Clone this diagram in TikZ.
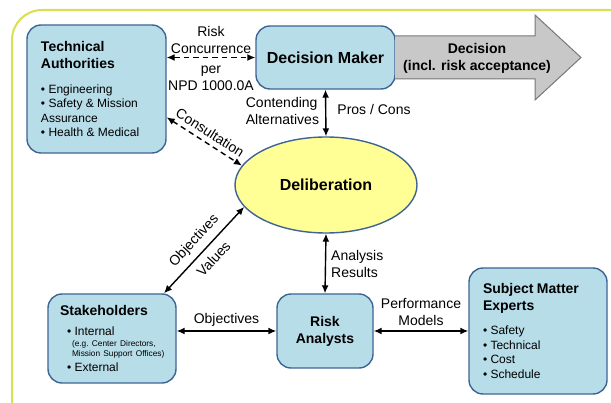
\documentclass[tikz,border=0pt]{standalone}
\usepackage{fontspec}
\setmainfont{Liberation Sans}
\usepackage{xcolor}
\usepackage{tikz}
\usetikzlibrary{shapes,arrows.meta,positioning}

\definecolor{boxfill}{RGB}{183,221,232}
\definecolor{boxline}{RGB}{62,100,148}
\definecolor{ellfill}{RGB}{255,255,150}
\definecolor{framecol}{RGB}{214,224,82}
\definecolor{arrowfill}{RGB}{200,200,200}
\definecolor{arrowline}{RGB}{120,120,120}

\newcommand{\titlefont}{\fontsize{14}{17}\selectfont\bfseries}
\newcommand{\itemfont}{\fontsize{12}{14.5}\selectfont}
\newcommand{\notefont}{\fontsize{8.3}{10}\selectfont}

\begin{document}
\begin{tikzpicture}[
    x=1pt, y=-1pt,
    block/.style={
        rectangle,
        draw=boxline,
        line width=1.4pt,
        fill=boxfill,
        rounded corners=14pt,
        inner ysep=0pt
    },
    cloud/.style={
        draw=boxline,
        ellipse,
        line width=1.4pt,
        fill=ellfill,
        inner sep=0pt,
        minimum width=182pt,
        minimum height=96pt
    },
    line/.style={
        draw, {Latex[length=8pt,width=7pt]}-{Latex[length=8pt,width=7pt]}, line width=1.4pt
    },
    dashline/.style={
        line, dash pattern=on 5.5pt off 4pt
    },
    lbl/.style={
        font=\fontsize{14}{17}\selectfont,
        align=center,
        inner sep=2pt
    }
]
    \clip (0,0) rectangle (611,403);

    % Frame
    \draw [framecol, line width=2pt, rounded corners=30pt] (12,10) rectangle (640,430);

    % Nodes
    \node [block, minimum width=139pt, minimum height=128pt, text width=111pt,
           inner xsep=14pt, align=left] (techauth) at (96.5,89) {%
        {\titlefont Technical\\Authorities\par}\vspace{10.5pt}
        {\itemfont\textbullet\ Engineering\\\textbullet\ Safety \& Mission\\Assurance\\\textbullet\ Health \& Medical\par}};
    \node [block, minimum width=139pt, minimum height=63pt,
           font=\fontsize{16}{19}\selectfont\bfseries] (decmaker) at (325.5,57.5) {Decision Maker};
    \node [cloud, font=\fontsize{16}{19}\selectfont\bfseries] (delib) at (326,185) {Deliberation};
    \node [block, minimum width=128pt, minimum height=89pt, text width=108pt,
           inner xsep=10pt, align=left] (stake) at (112,338.5) {%
        {\titlefont\leftskip=2pt Stakeholders\par}\vspace{5.5pt}
        {\itemfont\leftskip=9pt \textbullet\ Internal\par}\vspace{1pt}
        {\notefont\leftskip=14pt \mbox{(e.g.\ Center Directors,}\\\mbox{Mission Support Offices)}\par}
        {\itemfont\leftskip=9pt \textbullet\ External\par}};
    \node [block, minimum width=96pt, minimum height=74pt, align=center,
           font=\titlefont] (analysts) at (325,331) {Risk\\Analysts};
    \node [block, minimum width=138pt, minimum height=126pt, text width=110pt,
           inner xsep=14pt, align=left] (experts) at (538,331) {%
        {\titlefont Subject Matter\\Experts\par}\vspace{9.5pt}
        {\itemfont\textbullet\ Safety\\\textbullet\ Technical\\\textbullet\ Cost\\\textbullet\ Schedule\par}};

    % Decision output
    \draw [fill=arrowfill, draw=arrowline, line width=1pt]
        (395,36) -- (535,36) -- (535,15) -- (581,57.5) -- (535,100) -- (535,79) -- (395,79);
    \node [lbl, font=\titlefont] (decision) at (477,58) {Decision\\(incl. risk acceptance)};

    % Edges
    \path [dashline] (techauth.east |- decmaker.west) --
        node [lbl, above=1pt] {Risk\\Concurrence}
        node [lbl, below=6pt] {per\\NPD 1000.0A} (decmaker.west);
    \path [dashline] (techauth.-22.6) --
        node [lbl, sloped, above=3pt] {Consultation} (delib.167);
    \path [line] (decmaker.south) --
        node [lbl, left=4pt, align=left, pos=0.45] {Contending\\Alternatives}
        node [lbl, right=9pt, pos=0.42] {Pros / Cons} (delib.north);
    \path [line] (stake.41.7) --
        node [lbl, sloped, above=4pt] {Objectives}
        node [lbl, sloped, below=5pt] {Values} (delib.195);
    \path [line] (delib.south) --
        node [lbl, right=3pt, align=left] {Analysis\\Results} (analysts.north);
    \path [line] (stake.east |- analysts.west) --
        node [lbl, above=2pt] {Objectives} (analysts.west);
    \path [line] (analysts.east) --
        node [lbl, above=3pt] {Performance\\Models} (experts.west);

\end{tikzpicture}
\end{document}
